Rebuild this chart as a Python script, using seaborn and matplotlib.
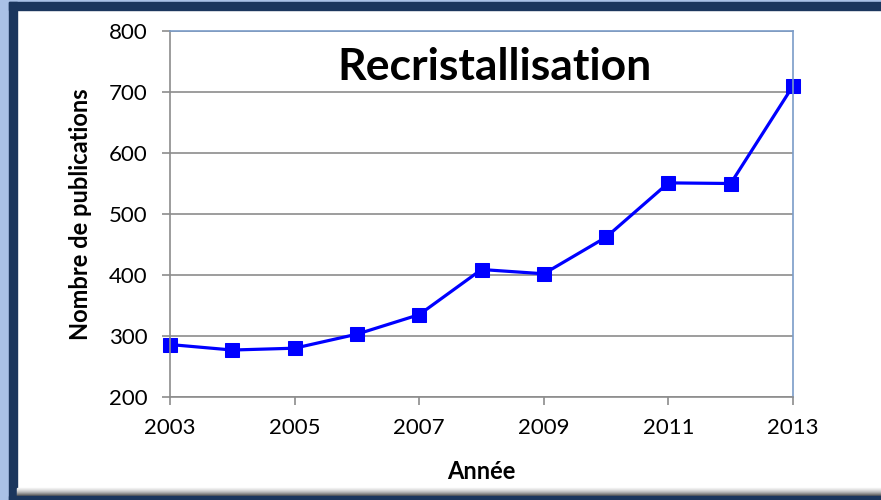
import numpy as np
import matplotlib.pyplot as plt
import pandas as pd
import seaborn as sns
from matplotlib.patches import Rectangle

# values
years = [2003, 2004, 2005, 2006, 2007, 2008, 2009, 2010, 2011, 2012, 2013]
publications = [286, 277, 280, 303, 335, 409, 402, 462, 551, 550, 710]
year_ticks = [2003, 2005, 2007, 2009, 2011, 2013]
count_ticks = [200, 300, 400, 500, 600, 700, 800]

sns.set_style('white')
plt.rcParams['font.family'] = ['Lato', 'DejaVu Sans']
plt.rcParams['text.color'] = 'black'

df = pd.DataFrame({'Année': years, 'Nombre de publications': publications})

fig = plt.figure(figsize=(8.81, 5.0), dpi=100)
W, H = 881, 500

# slide frame around the chart
def px_rect(x0, y0, x1, y1, color):
    fig.patches.append(Rectangle((x0 / W, 1 - y1 / H), (x1 - x0) / W, (y1 - y0) / H,
                                 transform=fig.transFigure, color=color, zorder=0))

px_rect(0, 0, 9, 500, '#a9c1e6')
px_rect(0, 0, 881, 2, '#a9c1e6')
px_rect(9, 2, 17, 500, '#1b365d')
px_rect(9, 2, 881, 10, '#1b365d')
for i, g in enumerate(['#f2f2f2', '#e6e6e6', '#d9d9d9', '#c8c8c8', '#b4b4b4', '#9a9a9a', '#7f7f7f', '#5f5f5f']):
    px_rect(17, 488 + i, 881, 489 + i, g)
px_rect(9, 496, 881, 500, '#1b365d')

ax = fig.add_axes([170 / W, 1 - 397 / H, (793 - 170) / W, (397 - 31) / H])
sns.lineplot(data=df, x='Année', y='Nombre de publications', ax=ax, color='#0000ff',
             linewidth=2.3, marker='s', markersize=10, markeredgecolor='#0000ff')

ax.set_xlim(2003, 2013)
ax.set_ylim(200, 800)
ax.set_xticks(year_ticks)
ax.set_yticks(count_ticks)
ax.grid(axis='y', color='#8c8c8c', linewidth=1.2)
ax.set_axisbelow(True)
ax.tick_params(axis='both', which='major', labelsize=16, length=6, width=1.2,
               color='#8c8c8c', labelcolor='black', direction='out')
ax.tick_params(axis='x', pad=9)
ax.tick_params(axis='y', pad=10)
ax.tick_params(axis='both', bottom=True, left=True)
for side in ['left', 'bottom']:
    ax.spines[side].set_color('#8c8c8c')
    ax.spines[side].set_linewidth(1.2)
for side in ['top', 'right']:
    ax.spines[side].set_color('#7a9cc8')
    ax.spines[side].set_linewidth(1.2)
for line in ax.lines:
    line.set_clip_on(False)

ax.set_xlabel('Année', fontsize=17, fontweight='bold', labelpad=16, color='black')
ax.set_ylabel('Nombre de publications', fontsize=17, fontweight='bold', labelpad=12, color='black')
ax.text(0.521, 0.902, 'Recristallisation', transform=ax.transAxes, ha='center', va='center',
        fontsize=32, fontweight='bold', color='black')

fig.savefig('out.png', dpi=100)
